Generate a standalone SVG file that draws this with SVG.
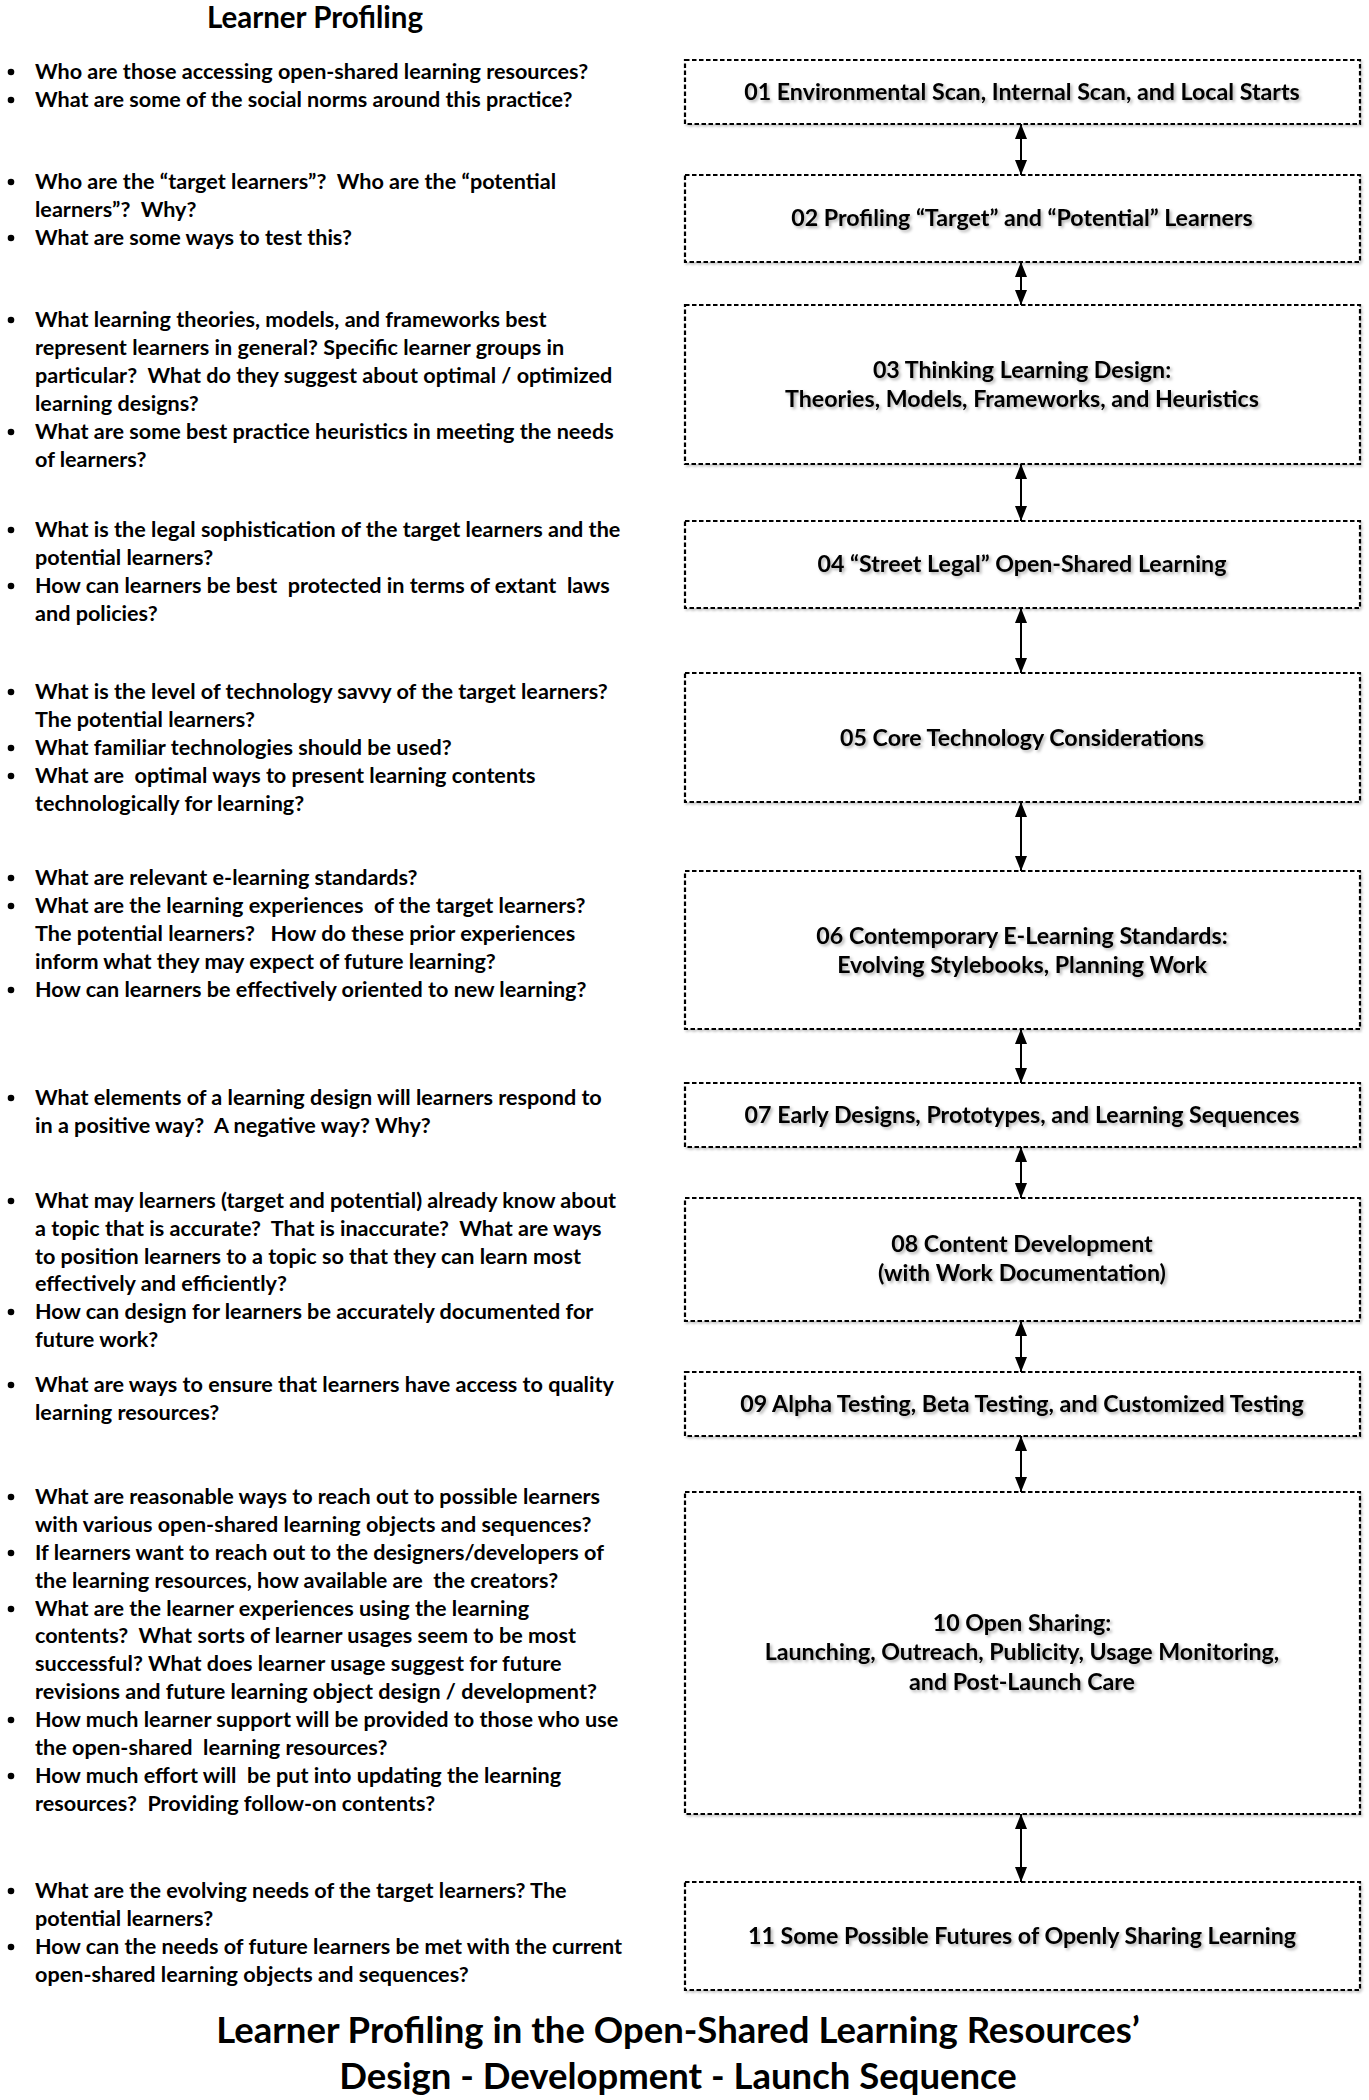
<svg xmlns="http://www.w3.org/2000/svg" width="1369" height="2100" viewBox="0 0 1369 2100">
<defs>
<style>
.q{font-family:Lato,"Open Sans","Liberation Sans",sans-serif;font-weight:700;font-size:21.6px;fill:#000;white-space:pre}
.lbl{font-family:Lato,"Open Sans","Liberation Sans",sans-serif;font-weight:700;font-size:23.2px;fill:#000;text-anchor:middle;filter:url(#ts);white-space:pre}
.ttl{font-family:Lato,"Open Sans","Liberation Sans",sans-serif;font-weight:700;fill:#000;text-anchor:middle}
.box{fill:#fff;stroke:#000;stroke-width:2.2;stroke-dasharray:4.5 2.5;filter:url(#bs)}
.con{stroke:#000;stroke-width:2;fill:none;marker-start:url(#ah);marker-end:url(#ah)}
.b{fill:#000}
</style>
<filter id="ts" x="-5%" y="-40%" width="110%" height="180%">
<feDropShadow dx="2" dy="2" stdDeviation="1.4" flood-color="#000" flood-opacity="0.3"/>
</filter>
<filter id="bs" x="-2%" y="-5%" width="104%" height="112%">
<feDropShadow dx="1.5" dy="2" stdDeviation="1.2" flood-color="#000" flood-opacity="0.2"/>
</filter>
<marker id="ah" markerUnits="userSpaceOnUse" markerWidth="15" markerHeight="12" viewBox="0 0 15 12" refX="15" refY="6" orient="auto-start-reverse">
<path d="M0,0 L15,6 L0,12 z" fill="#000"/>
</marker>
</defs>

<text class="ttl" x="315" y="28" font-size="29.5">Learner Profiling</text>

<g id="questions">
<g id="q01">
<circle class="b" cx="11" cy="72" r="3.3"/><circle class="b" cx="11" cy="100" r="3.3"/>
<text class="q" x="35" y="79">Who are those accessing open-shared learning resources?</text>
<text class="q" x="35" y="107">What are some of the social norms around this practice?</text>
</g>
<g id="q02">
<circle class="b" cx="11" cy="182" r="3.3"/><circle class="b" cx="11" cy="238" r="3.3"/>
<text class="q" x="35" y="189">Who are the “target learners”?  Who are the “potential</text>
<text class="q" x="35" y="217">learners”?  Why?</text>
<text class="q" x="35" y="245">What are some ways to test this?</text>
</g>
<g id="q03">
<circle class="b" cx="11" cy="320" r="3.3"/><circle class="b" cx="11" cy="432" r="3.3"/>
<text class="q" x="35" y="327">What learning theories, models, and frameworks best</text>
<text class="q" x="35" y="355">represent learners in general? Specific learner groups in</text>
<text class="q" x="35" y="383">particular?  What do they suggest about optimal / optimized</text>
<text class="q" x="35" y="411">learning designs?</text>
<text class="q" x="35" y="439">What are some best practice heuristics in meeting the needs</text>
<text class="q" x="35" y="467">of learners?</text>
</g>
<g id="q04">
<circle class="b" cx="11" cy="530" r="3.3"/><circle class="b" cx="11" cy="586" r="3.3"/>
<text class="q" x="35" y="537">What is the legal sophistication of the target learners and the</text>
<text class="q" x="35" y="565">potential learners?</text>
<text class="q" x="35" y="593">How can learners be best  protected in terms of extant  laws</text>
<text class="q" x="35" y="621">and policies?</text>
</g>
<g id="q05">
<circle class="b" cx="11" cy="692" r="3.3"/><circle class="b" cx="11" cy="748" r="3.3"/><circle class="b" cx="11" cy="776" r="3.3"/>
<text class="q" x="35" y="699">What is the level of technology savvy of the target learners?</text>
<text class="q" x="35" y="727">The potential learners?</text>
<text class="q" x="35" y="755">What familiar technologies should be used?</text>
<text class="q" x="35" y="783">What are  optimal ways to present learning contents</text>
<text class="q" x="35" y="811">technologically for learning?</text>
</g>
<g id="q06">
<circle class="b" cx="11" cy="878" r="3.3"/><circle class="b" cx="11" cy="906" r="3.3"/><circle class="b" cx="11" cy="990" r="3.3"/>
<text class="q" x="35" y="885">What are relevant e-learning standards?</text>
<text class="q" x="35" y="913">What are the learning experiences  of the target learners?</text>
<text class="q" x="35" y="941">The potential learners?   How do these prior experiences</text>
<text class="q" x="35" y="969">inform what they may expect of future learning?</text>
<text class="q" x="35" y="997">How can learners be effectively oriented to new learning?</text>
</g>
<g id="q07">
<circle class="b" cx="11" cy="1098" r="3.3"/>
<text class="q" x="35" y="1105">What elements of a learning design will learners respond to</text>
<text class="q" x="35" y="1133">in a positive way?  A negative way? Why?</text>
</g>
<g id="q08">
<circle class="b" cx="11" cy="1201" r="3.3"/><circle class="b" cx="11" cy="1312" r="3.3"/>
<text class="q" x="35" y="1208">What may learners (target and potential) already know about</text>
<text class="q" x="35" y="1236">a topic that is accurate?  That is inaccurate?  What are ways</text>
<text class="q" x="35" y="1264">to position learners to a topic so that they can learn most</text>
<text class="q" x="35" y="1291">effectively and efficiently?</text>
<text class="q" x="35" y="1319">How can design for learners be accurately documented for</text>
<text class="q" x="35" y="1347">future work?</text>
</g>
<g id="q09">
<circle class="b" cx="11" cy="1385" r="3.3"/>
<text class="q" x="35" y="1392">What are ways to ensure that learners have access to quality</text>
<text class="q" x="35" y="1420">learning resources?</text>
</g>
<g id="q10">
<circle class="b" cx="11" cy="1497" r="3.3"/><circle class="b" cx="11" cy="1553" r="3.3"/><circle class="b" cx="11" cy="1609" r="3.3"/><circle class="b" cx="11" cy="1720" r="3.3"/><circle class="b" cx="11" cy="1776" r="3.3"/>
<text class="q" x="35" y="1504">What are reasonable ways to reach out to possible learners</text>
<text class="q" x="35" y="1532">with various open-shared learning objects and sequences?</text>
<text class="q" x="35" y="1560">If learners want to reach out to the designers/developers of</text>
<text class="q" x="35" y="1588">the learning resources, how available are  the creators?</text>
<text class="q" x="35" y="1616">What are the learner experiences using the learning</text>
<text class="q" x="35" y="1643">contents?  What sorts of learner usages seem to be most</text>
<text class="q" x="35" y="1671">successful? What does learner usage suggest for future</text>
<text class="q" x="35" y="1699">revisions and future learning object design / development?</text>
<text class="q" x="35" y="1727">How much learner support will be provided to those who use</text>
<text class="q" x="35" y="1755">the open-shared  learning resources?</text>
<text class="q" x="35" y="1783">How much effort will  be put into updating the learning</text>
<text class="q" x="35" y="1811">resources?  Providing follow-on contents?</text>
</g>
<g id="q11">
<circle class="b" cx="11" cy="1891" r="3.3"/><circle class="b" cx="11" cy="1947" r="3.3"/>
<text class="q" x="35" y="1898">What are the evolving needs of the target learners? The</text>
<text class="q" x="35" y="1926">potential learners?</text>
<text class="q" x="35" y="1954">How can the needs of future learners be met with the current</text>
<text class="q" x="35" y="1982">open-shared learning objects and sequences?</text>
</g>
</g>

<g id="connectors">
<line class="con" x1="1021" y1="124" x2="1021" y2="175"/>
<line class="con" x1="1021" y1="262" x2="1021" y2="305"/>
<line class="con" x1="1021" y1="464" x2="1021" y2="521"/>
<line class="con" x1="1021" y1="608" x2="1021" y2="673"/>
<line class="con" x1="1021" y1="802" x2="1021" y2="871"/>
<line class="con" x1="1021" y1="1029" x2="1021" y2="1083"/>
<line class="con" x1="1021" y1="1147" x2="1021" y2="1198"/>
<line class="con" x1="1021" y1="1321" x2="1021" y2="1372"/>
<line class="con" x1="1021" y1="1436" x2="1021" y2="1492"/>
<line class="con" x1="1021" y1="1814" x2="1021" y2="1882"/>
</g>

<g id="n01"><rect class="box" x="685" y="60" width="675" height="64"/><text class="lbl" x="1022" y="100">01 Environmental Scan, Internal Scan, and Local Starts</text></g>
<g id="n02"><rect class="box" x="685" y="175" width="675" height="87"/><text class="lbl" x="1022" y="226">02 Profiling “Target” and “Potential” Learners</text></g>
<g id="n03"><rect class="box" x="685" y="305" width="675" height="159"/><text class="lbl" x="1022" y="378">03 Thinking Learning Design:</text><text class="lbl" x="1022" y="407">Theories, Models, Frameworks, and Heuristics</text></g>
<g id="n04"><rect class="box" x="685" y="521" width="675" height="87"/><text class="lbl" x="1022" y="572">04 “Street Legal” Open-Shared Learning</text></g>
<g id="n05"><rect class="box" x="685" y="673" width="675" height="129"/><text class="lbl" x="1022" y="746">05 Core Technology Considerations</text></g>
<g id="n06"><rect class="box" x="685" y="871" width="675" height="158"/><text class="lbl" x="1022" y="944">06 Contemporary E-Learning Standards:</text><text class="lbl" x="1022" y="973">Evolving Stylebooks, Planning Work</text></g>
<g id="n07"><rect class="box" x="685" y="1083" width="675" height="64"/><text class="lbl" x="1022" y="1123">07 Early Designs, Prototypes, and Learning Sequences</text></g>
<g id="n08"><rect class="box" x="685" y="1198" width="675" height="123"/><text class="lbl" x="1022" y="1252">08 Content Development</text><text class="lbl" x="1022" y="1281">(with Work Documentation)</text></g>
<g id="n09"><rect class="box" x="685" y="1372" width="675" height="64"/><text class="lbl" x="1022" y="1412">09 Alpha Testing, Beta Testing, and Customized Testing</text></g>
<g id="n10"><rect class="box" x="685" y="1492" width="675" height="322"/><text class="lbl" x="1022" y="1631">10 Open Sharing:</text><text class="lbl" x="1022" y="1660">Launching, Outreach, Publicity, Usage Monitoring,</text><text class="lbl" x="1022" y="1690">and Post-Launch Care</text></g>
<g id="n11"><rect class="box" x="685" y="1882" width="675" height="108"/><text class="lbl" x="1022" y="1944">11 Some Possible Futures of Openly Sharing Learning</text></g>

<text class="ttl" x="678" y="2043" font-size="36.5">Learner Profiling in the Open-Shared Learning Resources’</text>
<text class="ttl" x="678" y="2089" font-size="36.5">Design - Development - Launch Sequence</text>
</svg>
